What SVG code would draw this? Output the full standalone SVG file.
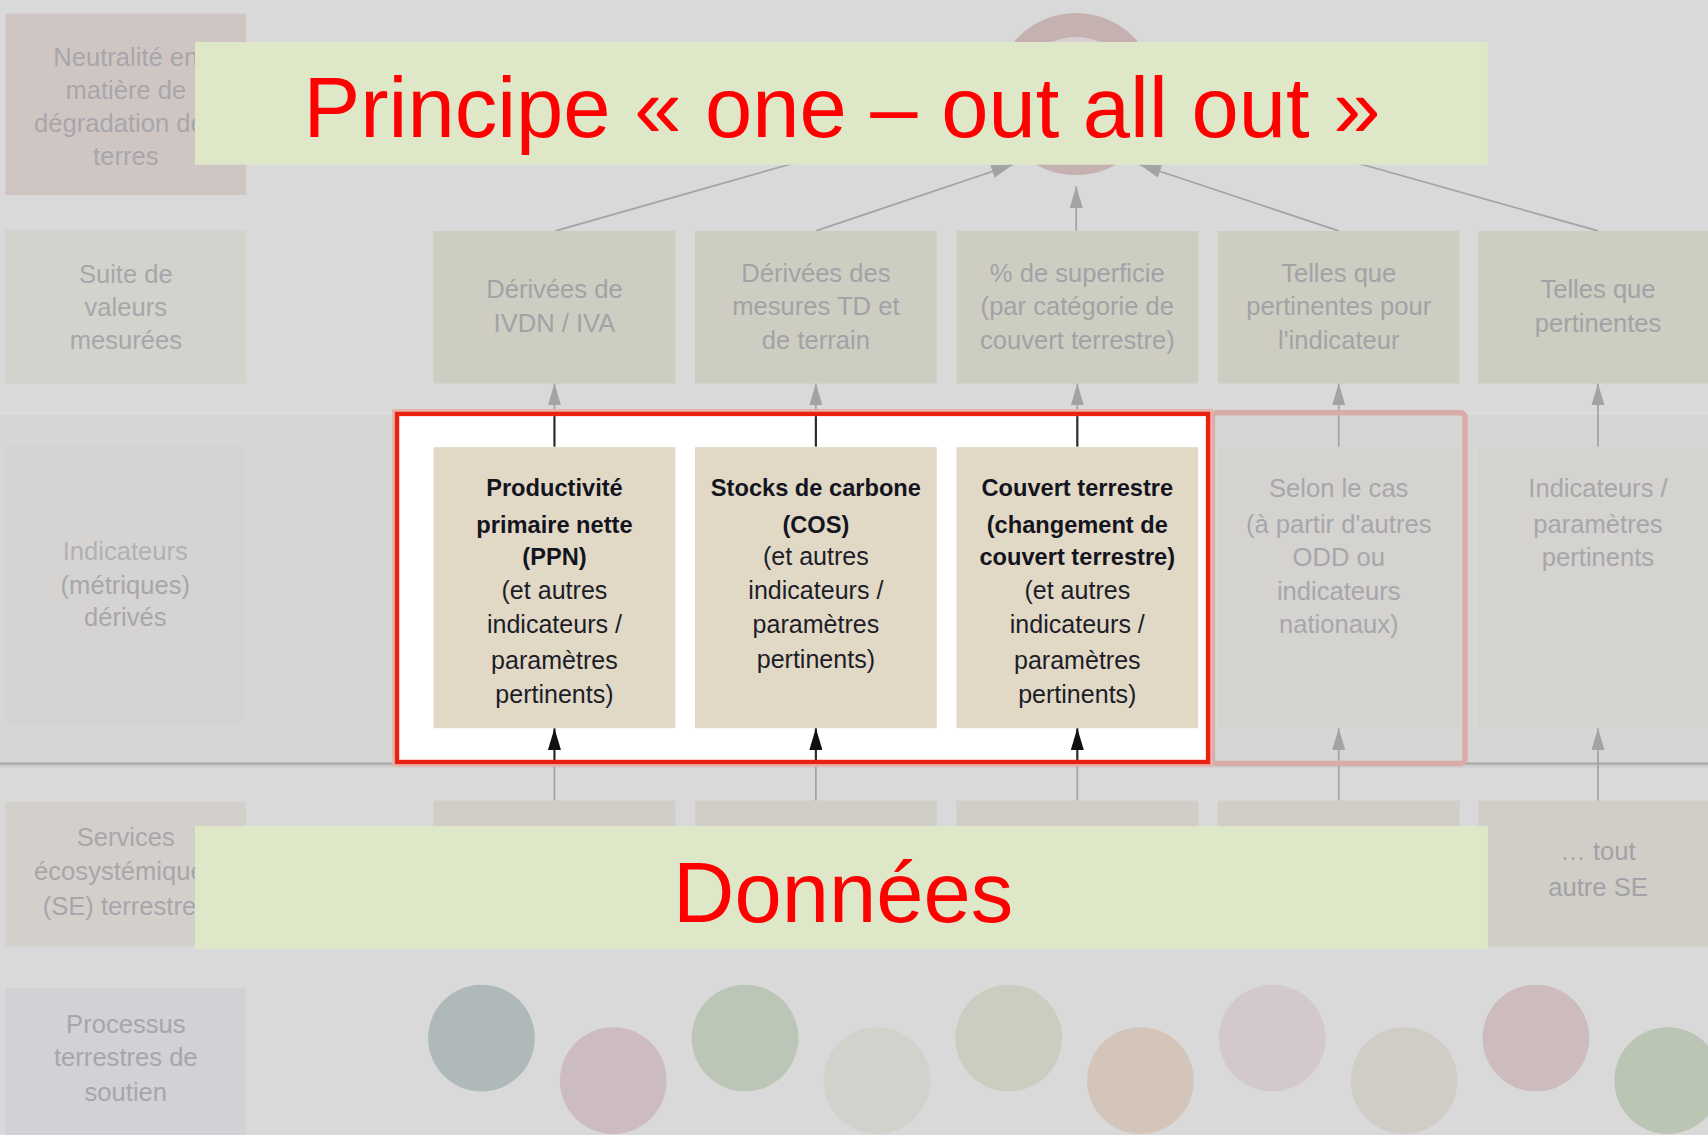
<svg xmlns="http://www.w3.org/2000/svg" width="1708" height="1135" viewBox="0 0 1708 1135">
<style>
.f{font-family:"Liberation Sans",Arial,sans-serif;font-size:23.5px;fill:#a8a6ab;text-anchor:middle}
.f2{font-family:"Liberation Sans",Arial,sans-serif;font-size:23.5px;fill:#a2a2a7;text-anchor:middle}
.d{font-family:"Liberation Sans",Arial,sans-serif;font-size:23px;fill:#1d1d28;text-anchor:middle}
.db{font-family:"Liberation Sans",Arial,sans-serif;font-size:21.7px;font-weight:bold;fill:#14141e;text-anchor:middle}
.ban{font-family:"Liberation Sans",Arial,sans-serif;font-size:78px;fill:#ff0000;text-anchor:middle}
.r2{fill:#cdcec1}
.r3{fill:#d4d3d0}
.r4{fill:#d1cec8}
.bg3{fill:#e1d9c6}
.cf{stroke:#a3a3a3;stroke-width:1.6;fill:none}
.cd{stroke:#2a2a2a;stroke-width:2;fill:none}
</style>
<defs>
<marker id="af" markerUnits="userSpaceOnUse" markerWidth="20" markerHeight="12" refX="20" refY="6" orient="auto"><path d="M0,0 L20,6 L0,12 Z" fill="#a3a3a3"/></marker>
<marker id="ad" markerUnits="userSpaceOnUse" markerWidth="20" markerHeight="12" refX="20" refY="6" orient="auto"><path d="M0,0 L20,6 L0,12 Z" fill="#111"/></marker>
</defs>
<rect width="1708" height="1135" fill="#d9d9d9"/>
<g transform="scale(1.08929)">
<rect x="0" y="379" width="1570" height="322" fill="#d6d6d6"/>
<line x1="0" y1="379" x2="1570" y2="379" stroke="#dfdfdf" stroke-width="1.5"/>

<!-- left column -->
<g id="lvl-neutralite">
<rect x="5" y="12.5" width="221" height="166.5" fill="#cfc6c4"/>
<text class="f" x="115.5" y="61">Neutralité en</text>
<text class="f" x="115.5" y="91">matière de</text>
<text class="f" x="115.5" y="121.5">dégradation des</text>
<text class="f" x="115.5" y="151.5">terres</text>
</g>
<g id="lvl-suite">
<rect x="5" y="211" width="221" height="141" fill="#d3d3cd"/>
<text class="f" x="115.5" y="260">Suite de</text>
<text class="f" x="115.5" y="290">valeurs</text>
<text class="f" x="115.5" y="320">mesurées</text>
</g>
<g id="lvl-indicateurs">
<rect x="4" y="408.5" width="221" height="257" fill="#d5d4d2"/>
<text class="f" x="115" y="514" fill-opacity="0.8">Indicateurs</text>
<text class="f" x="115" y="545">(métriques)</text>
<text class="f" x="115" y="575">dérivés</text>
</g>
<g id="lvl-services">
<rect x="5" y="736" width="221" height="133" fill="#d3d0cb"/>
<text class="f" x="115.5" y="777">Services</text>
<text class="f" x="115.5" y="808">écosystémiques</text>
<text class="f" x="115.5" y="840">(SE) terrestres</text>
</g>
<g id="lvl-processus">
<rect x="5" y="907" width="221" height="140" fill="#d0d2d5"/>
<text class="f" x="115.5" y="948">Processus</text>
<text class="f" x="115.5" y="979">terrestres de</text>
<text class="f" x="115.5" y="1011">soutien</text>
</g>

<!-- separator line -->
<line x1="0" y1="701" x2="1570" y2="701" stroke="#a8a8a8" stroke-width="2"/>
<line x1="0" y1="703.5" x2="1570" y2="703.5" stroke="#cbcbcb" stroke-width="2"/>

<!-- top ring -->
<g id="ndt-ring">
<circle cx="987.8" cy="86.3" r="74.4" fill="#c5b1b0"/>
<circle cx="987.8" cy="92" r="58" fill="#d6d0d0"/>
</g>

<!-- connectors (faded) -->
<g id="connectors">
<line class="cf" x1="510" y1="212" x2="735" y2="148"/>
<line class="cf" x1="749" y1="212" x2="930" y2="151" marker-end="url(#af)"/>
<line class="cf" x1="988" y1="212" x2="988" y2="171" marker-end="url(#af)"/>
<line class="cf" x1="1229" y1="212" x2="1046" y2="151" marker-end="url(#af)"/>
<line class="cf" x1="1467" y1="212" x2="1240" y2="148"/>
<line class="cf" x1="509" y1="382" x2="509" y2="352" marker-end="url(#af)"/>
<line class="cf" x1="749" y1="382" x2="749" y2="352" marker-end="url(#af)"/>
<line class="cf" x1="989" y1="382" x2="989" y2="352" marker-end="url(#af)"/>
<line class="cf" x1="1229" y1="410" x2="1229" y2="352" marker-end="url(#af)"/>
<line class="cf" x1="1467" y1="410" x2="1467" y2="352" marker-end="url(#af)"/>
<line class="cf" x1="509" y1="735" x2="509" y2="700"/>
<line class="cf" x1="749" y1="735" x2="749" y2="700"/>
<line class="cf" x1="989" y1="735" x2="989" y2="700"/>
<line class="cf" x1="1229" y1="735" x2="1229" y2="668.5" marker-end="url(#af)"/>
<line class="cf" x1="1467" y1="735" x2="1467" y2="668.5" marker-end="url(#af)"/>
</g>

<!-- row 2 -->
<g id="d-ivdn"><rect class="r2" x="398" y="212" width="222" height="140"/>
<text class="f2" x="509" y="274">Dérivées de</text><text class="f2" x="509" y="304.5">IVDN / IVA</text></g>
<g id="d-td"><rect class="r2" x="638" y="212" width="222" height="140"/>
<text class="f2" x="749" y="259">Dérivées des</text><text class="f2" x="749" y="289">mesures TD et</text><text class="f2" x="749" y="320">de terrain</text></g>
<g id="d-superficie"><rect class="r2" x="878" y="212" width="222" height="140"/>
<text class="f2" x="989" y="259">% de superficie</text><text class="f2" x="989" y="289">(par catégorie de</text><text class="f2" x="989" y="320">couvert terrestre)</text></g>
<g id="d-telles1"><rect class="r2" x="1118" y="212" width="222" height="140"/>
<text class="f2" x="1229" y="259">Telles que</text><text class="f2" x="1229" y="289">pertinentes pour</text><text class="f2" x="1229" y="320">l'indicateur</text></g>
<g id="d-telles2"><rect class="r2" x="1357" y="212" width="222" height="140"/>
<text class="f2" x="1467" y="274">Telles que</text><text class="f2" x="1467" y="304.5">pertinentes</text></g>

<!-- row 3 faded -->
<g id="i-selon"><rect class="r3" x="1118" y="410.5" width="222" height="258"/>
<text class="f" x="1229" y="456">Selon le cas</text><text class="f" x="1229" y="489.5">(à partir d'autres</text><text class="f" x="1229" y="520">ODD ou</text><text class="f" x="1229" y="551">indicateurs</text><text class="f" x="1229" y="581">nationaux)</text></g>
<g id="i-autres"><rect class="r3" x="1357" y="410.5" width="222" height="258"/>
<text class="f" x="1467" y="456">Indicateurs /</text><text class="f" x="1467" y="489.5">paramètres</text><text class="f" x="1467" y="520">pertinents</text></g>

<!-- row 4 -->
<g id="se-1"><rect class="r4" x="398" y="735" width="222" height="134"/></g>
<g id="se-2"><rect class="r4" x="638" y="735" width="222" height="134"/></g>
<g id="se-3"><rect class="r4" x="878" y="735" width="222" height="134"/></g>
<g id="se-4"><rect class="r4" x="1118" y="735" width="222" height="134"/></g>
<g id="se-5"><rect class="r4" x="1357" y="735" width="222" height="134"/>
<text class="f2" x="1467" y="789.5">… tout</text><text class="f2" x="1467" y="823">autre SE</text></g>

<!-- row 5 circles -->
<g id="processes">
<circle cx="442" cy="953" r="49" fill="#b0b9b9"/>
<circle cx="563" cy="992" r="49" fill="#ccbcbf"/>
<circle cx="684" cy="953" r="49" fill="#bcc6b6"/>
<circle cx="805" cy="992" r="49" fill="#d2d1cc"/>
<circle cx="926" cy="953" r="49" fill="#cbcdc0"/>
<circle cx="1047" cy="992" r="49" fill="#d3c5b9"/>
<circle cx="1168" cy="953" r="49" fill="#d3c9ca"/>
<circle cx="1289" cy="992" r="49" fill="#d0cdc6"/>
<circle cx="1410" cy="953" r="49" fill="#cdbbbe"/>
<circle cx="1531" cy="992" r="49" fill="#bac5b4"/>
</g>

<!-- faded pink frame -->
<rect x="1113" y="379" width="232" height="322" rx="4" fill="none" stroke="#d9aca8" stroke-width="5"/>

<!-- highlight -->
<g id="highlight">
<rect x="364.5" y="380" width="744.5" height="319.5" fill="none" stroke="#e6b2ab" stroke-width="9"/>
<rect x="364.5" y="380" width="744.5" height="319.5" fill="#ffffff"/>
</g>
<g id="connectors-highlight">
<line class="cd" x1="509" y1="410" x2="509" y2="382"/>
<line class="cd" x1="749" y1="410" x2="749" y2="382" stroke="#111"/>
<line class="cd" x1="989" y1="410" x2="989" y2="382"/>
<line class="cd" x1="509" y1="700" x2="509" y2="668.5" marker-end="url(#ad)"/>
<line class="cd" x1="749" y1="700" x2="749" y2="668.5" marker-end="url(#ad)"/>
<line class="cd" x1="989" y1="700" x2="989" y2="668.5" marker-end="url(#ad)"/>
</g>
<g id="i-ppn"><rect class="bg3" x="398" y="410.5" width="222" height="258"/>
<text class="db" x="509" y="455">Productivité</text><text class="db" x="509" y="489">primaire nette</text><text class="db" x="509" y="519">(PPN)</text>
<text class="d" x="509" y="550">(et autres</text><text class="d" x="509" y="581">indicateurs /</text><text class="d" x="509" y="614">paramètres</text><text class="d" x="509" y="645">pertinents)</text></g>
<g id="i-cos"><rect class="bg3" x="638" y="410.5" width="222" height="258"/>
<text class="db" x="749" y="455">Stocks de carbone</text><text class="db" x="749" y="489">(COS)</text>
<text class="d" x="749" y="519">(et autres</text><text class="d" x="749" y="550">indicateurs /</text><text class="d" x="749" y="581">paramètres</text><text class="d" x="749" y="613">pertinents)</text></g>
<g id="i-couvert"><rect class="bg3" x="878" y="410.5" width="222" height="258"/>
<text class="db" x="989" y="455">Couvert terrestre</text><text class="db" x="989" y="489">(changement de</text><text class="db" x="989" y="519">couvert terrestre)</text>
<text class="d" x="989" y="550">(et autres</text><text class="d" x="989" y="581">indicateurs /</text><text class="d" x="989" y="614">paramètres</text><text class="d" x="989" y="645">pertinents)</text></g>
<rect x="364.5" y="380" width="744.5" height="319.5" fill="none" stroke="#e8220e" stroke-width="4"/>

<!-- banners -->
<g id="banner-principe">
<rect x="179" y="38.6" width="1187" height="112.6" fill="#dfe7c9"/>
<text class="ban" x="773" y="126">Principe « one – out all out »</text>
</g>
<g id="banner-donnees">
<rect x="179" y="758.3" width="1187" height="112.9" fill="#dfe7c9"/>
<text class="ban" x="774" y="846">Données</text>
</g>
</g>
</svg>
